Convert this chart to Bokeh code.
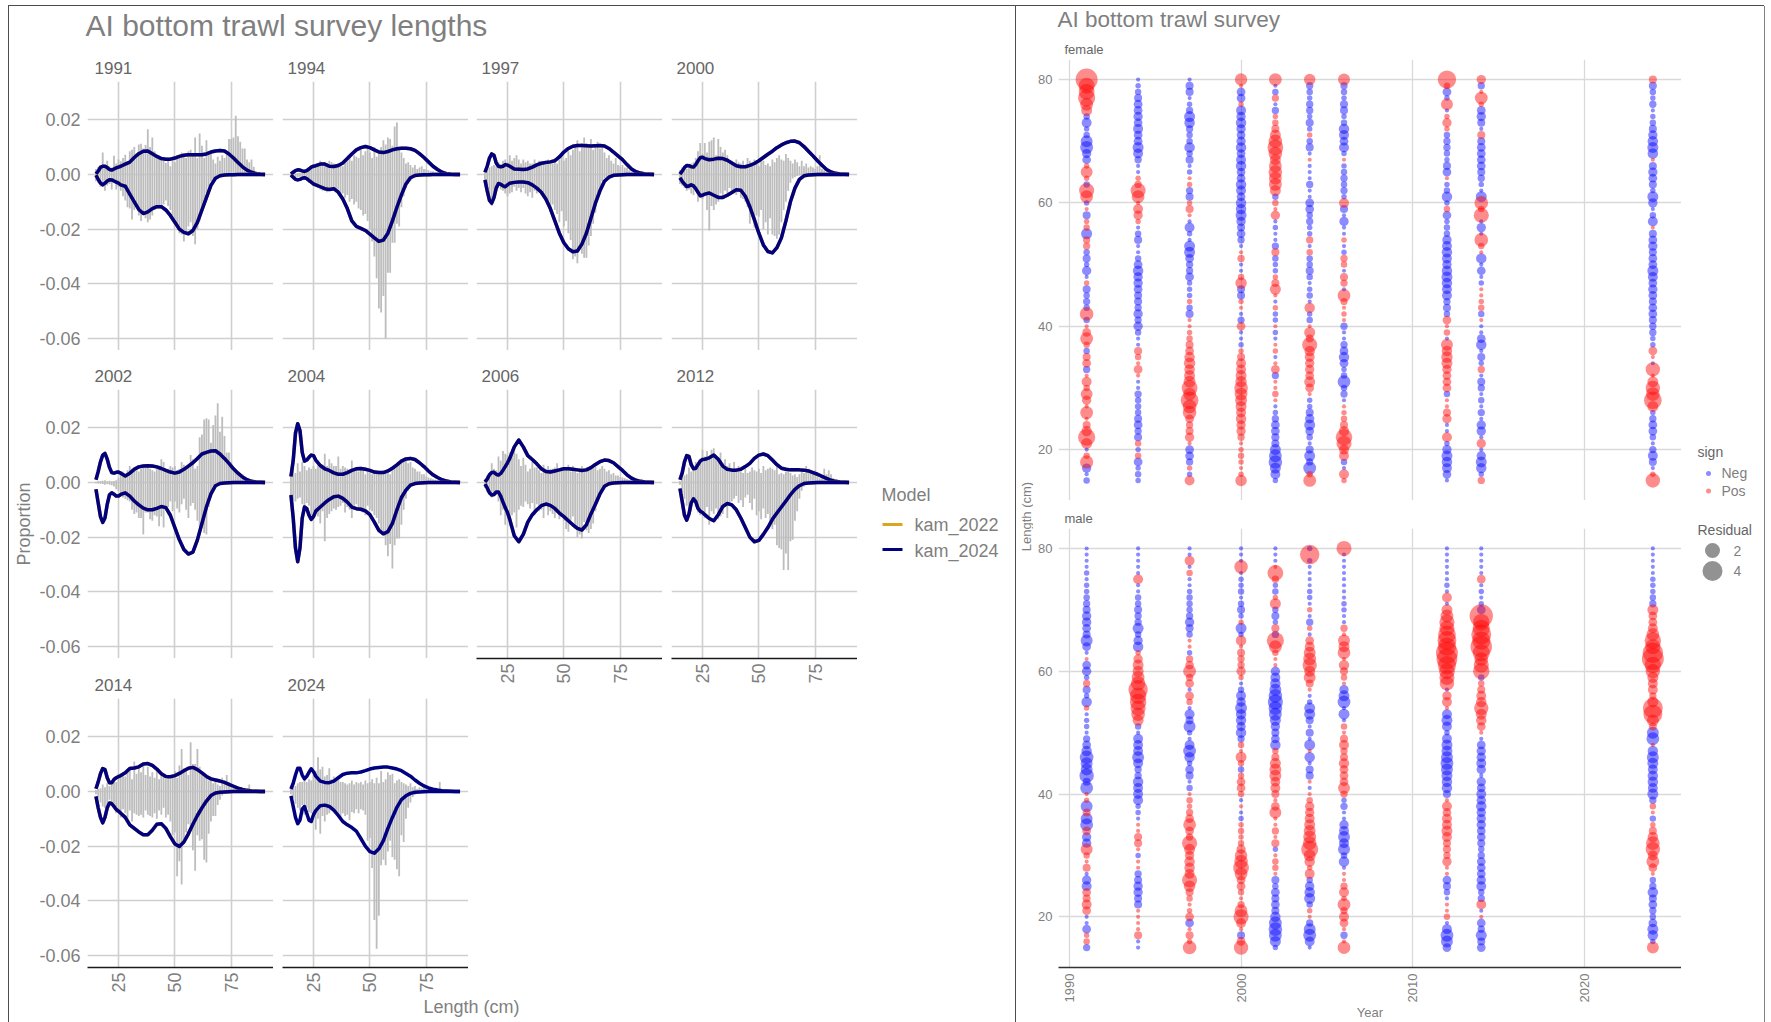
import math
from bokeh.plotting import figure
from bokeh.models import Range1d, FixedTicker, PrintfTickFormatter, Label, Spacer, Title
from bokeh.layouts import row, column
from bokeh.embed import file_html
from bokeh.resources import INLINE

YEARS = [1991, 1994, 1997, 2000, 2002, 2004, 2006, 2012, 2014, 2024]
FIT_LENGTHS = [15,16,17,18,19,20,21,22,23,24,25,26,28,30,32,34,36,38,40,42,44,46,48,50,52,54,56,58,60,62,64,66,68,70,72,74,76,78,80,82,84,86,88,90]

# Observed proportions (1e-4), lengths 15..90; up = above zero, dn = below zero (magnitude)
obs_up_1991 = [20,28,35,80,32,50,30,25,68,40,55,48,60,72,45,85,90,100,70,110,112,95,108,165,100,135,85,70,60,55,50,42,55,30,60,45,70,65,80,75,60,85,90,72,135,60,150,105,60,125,75,85,55,40,65,50,70,60,85,130,130,135,215,140,120,95,95,55,45,55,28,12,4,2,1,1]
obs_dn_1991 = [25,30,45,35,60,40,35,55,30,55,45,60,80,95,120,125,165,130,110,150,170,140,160,175,165,150,130,115,120,125,110,95,115,130,150,165,190,215,220,245,210,190,175,225,255,200,170,130,100,70,45,25,18,15,12,10,8,6,5,4,4,3,3,2,2,1,1,1,1,1,1,1,0,0,0,0]
obs_up_1994 = [3,4,4,5,6,8,12,15,20,25,30,35,40,50,45,40,35,50,45,40,35,30,40,30,45,55,60,50,70,65,60,90,70,85,100,80,60,100,65,90,100,125,110,135,130,105,175,190,100,80,60,40,45,35,25,35,20,25,30,20,18,15,12,12,8,8,6,6,4,3,3,2,1,1,0,0]
obs_dn_1994 = [6,10,12,10,8,8,10,15,20,30,40,45,50,55,60,55,65,50,55,60,60,55,75,70,85,75,100,90,110,100,125,130,150,145,170,200,245,300,380,490,505,445,600,360,360,250,250,180,190,120,80,50,35,25,15,10,8,6,4,3,2,2,2,1,1,1,1,1,1,1,0,0,0,0,0,0]
obs_up_1997 = [10,20,25,30,35,30,45,35,50,55,45,70,50,60,70,55,40,55,45,50,40,40,55,35,50,40,45,35,55,50,40,60,40,55,70,50,60,85,70,90,105,125,85,115,135,115,110,130,90,105,120,95,110,80,60,70,50,40,60,35,30,35,25,25,15,10,10,8,6,4,4,3,2,1,1,0]
obs_dn_1997 = [20,55,100,115,65,50,40,55,60,70,80,70,65,45,60,50,65,50,70,80,65,85,60,70,60,75,85,95,100,125,110,130,145,175,135,190,170,215,240,310,300,325,265,290,305,305,260,225,180,140,90,60,25,15,10,8,6,4,3,2,2,1,1,1,1,1,0,0,0,0,0,0,0,0,0,0]
obs_up_2000 = [15,25,30,20,35,40,45,60,85,115,75,115,80,120,125,135,70,130,100,80,90,70,45,50,35,55,45,40,50,35,60,50,40,55,45,30,60,50,35,40,30,55,45,60,70,55,50,75,60,50,40,55,45,30,50,30,40,25,30,25,20,30,70,20,15,10,8,6,10,4,3,2,1,1,0,0]
obs_dn_2000 = [35,40,50,60,55,70,75,55,100,85,90,75,130,205,115,130,110,100,70,80,60,70,50,60,70,75,65,85,90,100,120,180,130,195,150,155,130,200,175,220,160,220,225,235,220,175,130,100,60,30,15,10,6,4,3,2,2,1,1,1,1,1,1,0,0,0,0,0,0,0,0,0,0,0,0,0]
obs_up_2002 = [3,4,5,6,8,4,6,4,5,8,15,30,40,30,45,60,50,55,45,40,50,60,55,65,50,45,40,60,55,85,75,40,50,60,55,60,45,50,75,65,50,60,100,85,50,60,165,175,230,235,230,145,210,245,290,185,240,170,110,110,75,50,40,40,30,30,20,15,10,6,4,3,2,1,0,0]
obs_dn_2002 = [3,4,5,6,8,6,8,10,15,25,30,50,55,60,65,70,100,115,110,130,130,190,110,110,135,140,120,125,160,125,165,100,90,70,105,70,95,110,80,60,100,130,85,75,100,140,165,155,185,190,90,50,25,15,10,8,6,4,3,2,1,1,1,0,0,0,0,0,0,0,0,0,0,0,0,0]
obs_up_2004 = [55,60,35,70,40,75,60,45,55,50,60,50,65,70,65,105,60,85,70,60,60,95,50,60,55,50,45,80,45,55,40,50,55,30,40,35,30,45,35,40,35,30,45,40,30,45,50,65,75,85,85,80,70,75,55,50,40,40,30,30,22,18,15,12,10,8,10,5,4,3,2,2,1,1,0,0]
obs_dn_2004 = [55,65,70,60,55,80,95,75,85,120,115,110,125,150,105,215,130,115,105,95,100,90,85,75,110,90,100,130,85,80,100,95,110,120,85,100,105,120,130,150,180,190,230,270,225,315,230,205,205,155,100,60,30,15,8,5,3,2,2,1,1,1,0,0,0,0,0,0,0,0,0,0,0,0,0,0]
obs_up_2006 = [10,25,35,70,50,45,95,80,115,105,100,110,100,125,105,85,60,90,65,40,50,75,55,55,45,35,65,50,60,50,50,55,70,45,55,50,55,65,40,60,50,35,50,60,50,55,45,60,55,65,45,50,60,50,40,45,30,35,25,25,20,18,15,12,10,12,8,6,4,3,2,2,1,1,0,0]
obs_dn_2006 = [20,35,45,55,50,45,70,120,100,155,90,160,120,110,165,100,85,90,70,80,95,75,120,80,105,100,130,85,120,105,115,130,110,135,120,140,170,180,140,125,170,200,190,205,145,175,185,170,150,105,70,50,25,15,10,6,4,3,2,1,1,1,0,0,0,0,0,0,0,0,0,0,0,0,0,0]
obs_up_2012 = [5,15,25,30,55,40,60,75,65,85,120,95,115,90,120,125,100,90,110,70,85,60,70,50,75,45,60,40,35,50,35,40,55,45,40,50,35,60,45,50,55,50,45,60,30,35,30,40,45,35,25,30,20,30,40,35,60,50,35,30,45,25,15,15,50,30,45,30,15,10,5,3,2,1,0,0]
obs_dn_2012 = [8,35,60,85,95,105,70,90,110,120,100,130,90,155,105,115,95,135,125,115,85,130,80,70,60,50,75,65,90,55,45,75,100,60,120,105,135,95,130,115,145,170,155,230,240,245,320,260,320,215,210,140,105,60,30,15,8,5,3,2,1,1,0,0,0,0,0,0,0,0,0,0,0,0,0,0]
obs_up_2014 = [5,10,12,25,15,30,20,35,40,35,65,50,65,55,80,85,45,110,65,90,70,105,60,90,55,70,50,85,45,65,55,45,60,45,55,75,50,95,155,85,75,60,180,100,100,155,90,60,55,50,40,45,30,35,25,20,50,40,60,35,20,15,12,10,10,8,6,4,25,3,2,1,1,0,0,0]
obs_dn_2014 = [10,25,40,55,60,70,30,45,60,80,70,95,65,80,100,70,110,80,85,90,85,95,70,85,90,95,80,100,70,85,60,95,85,110,160,150,310,255,340,190,150,120,130,215,290,160,180,175,250,260,155,110,90,90,50,30,15,8,4,2,1,1,0,0,0,0,0,0,0,0,0,0,0,0,0,0]
obs_up_2024 = [10,15,20,30,35,35,40,35,45,40,60,75,125,80,90,55,60,85,45,55,40,45,35,35,30,25,30,40,25,35,30,35,25,40,30,35,45,30,50,30,75,35,45,70,60,65,30,40,45,35,30,25,20,30,15,20,10,15,12,15,10,8,6,4,4,3,35,3,2,2,1,1,0,0,0,0]
obs_dn_2024 = [10,25,45,60,70,50,85,60,75,80,85,140,100,155,90,110,85,80,70,75,80,90,100,80,90,85,105,75,80,65,80,65,70,85,180,170,280,470,575,455,270,250,270,220,180,240,250,285,310,160,185,100,60,40,20,12,8,4,3,2,1,1,0,0,0,0,0,0,0,0,0,0,0,0,0,0]

# Fitted proportions (1e-4) at FIT_LENGTHS
fit_up_1991 = [2,12,26,30,30,25,18,16,20,24,27,30,38,45,62,76,85,86,76,66,58,56,56,60,66,70,72,72,72,72,75,82,86,88,86,75,60,44,28,16,8,3,1,0]
fit_dn_1991 = [3,18,32,38,32,24,19,20,24,28,32,38,43,72,100,128,143,137,125,118,118,130,150,175,200,212,217,205,175,130,85,40,14,5,2,1,1,0,0,0,0,0,0,0]
fit_up_1994 = [2,8,14,17,16,13,11,14,20,27,30,32,38,38,30,29,33,42,58,75,90,98,102,98,90,82,80,84,90,94,96,96,94,88,76,62,46,30,18,8,3,1,0,0]
fit_dn_1994 = [2,10,18,20,18,14,12,15,22,28,35,38,45,52,55,52,65,90,125,170,190,197,205,218,232,245,240,215,170,120,75,35,12,4,2,1,1,0,0,0,0,0,0,0]
fit_up_1997 = [8,30,60,75,70,42,30,28,30,36,34,30,20,19,18,20,27,35,41,44,46,50,64,82,95,103,106,106,105,104,105,106,104,95,82,68,54,36,20,10,5,2,1,0]
fit_dn_1997 = [20,60,95,105,85,50,33,36,42,45,38,32,29,28,28,30,38,50,65,90,125,170,215,250,272,283,280,255,215,160,105,60,25,10,3,2,1,0,0,0,0,0,0,0]
fit_up_2000 = [1,12,25,33,32,28,27,36,50,61,63,58,54,56,59,58,52,42,32,28,28,33,40,50,62,74,85,98,108,116,121,122,116,102,85,68,50,34,18,9,4,2,1,0]
fit_dn_2000 = [12,25,35,44,42,38,42,52,65,78,76,72,68,76,84,84,76,66,56,58,80,118,165,215,258,282,287,268,232,170,100,50,18,5,2,1,0,0,0,0,0,0,0,0]
fit_up_2002 = [10,40,75,100,106,85,55,36,34,37,38,34,24,34,48,57,60,61,60,57,51,44,38,34,38,48,60,72,88,104,110,115,116,104,88,70,50,34,20,10,4,2,1,0]
fit_dn_2002 = [25,75,125,146,130,80,45,38,43,50,50,44,38,50,68,82,94,100,100,95,88,92,120,165,210,245,262,255,210,150,90,42,12,4,2,1,0,0,0,0,0,0,0,0]
fit_up_2004 = [22,80,180,215,190,110,78,82,92,100,98,82,62,50,44,35,30,30,36,44,50,51,48,44,38,36,36,42,52,64,78,86,88,84,72,58,42,28,18,10,5,2,1,0]
fit_dn_2004 = [46,130,240,290,240,130,90,95,120,135,125,105,90,75,62,52,50,58,72,90,96,98,104,118,145,175,188,180,150,100,55,28,10,4,2,1,0,0,0,0,0,0,0,0]
fit_up_2006 = [2,12,28,36,37,30,27,33,45,58,72,88,130,155,130,98,84,68,50,40,38,42,46,50,50,48,46,44,46,54,66,76,82,80,72,58,44,28,16,8,4,2,1,0]
fit_dn_2006 = [6,20,38,46,44,35,35,50,72,92,110,135,195,217,190,145,118,100,85,79,84,95,112,125,140,155,168,174,155,115,80,42,14,5,2,1,0,0,0,0,0,0,0,0]
fit_up_2012 = [10,35,75,98,95,65,50,52,65,78,84,85,90,100,85,60,48,45,45,48,58,70,88,100,104,98,82,65,52,48,46,46,46,45,42,36,30,22,15,8,4,2,1,0]
fit_dn_2012 = [22,70,120,138,115,75,60,70,95,105,110,118,132,140,118,88,77,82,100,130,165,200,217,212,190,165,135,112,90,68,45,25,12,4,2,1,0,0,0,0,0,0,0,0]
fit_up_2014 = [10,35,65,84,80,50,32,32,44,50,54,58,68,84,86,90,100,102,95,82,65,55,54,58,66,76,85,88,80,68,55,46,42,38,33,26,19,12,7,4,2,1,0,0]
fit_dn_2014 = [18,60,95,115,95,60,42,45,55,66,72,80,95,122,135,148,158,158,142,120,118,135,165,192,201,185,155,120,88,60,35,15,6,3,2,1,0,0,0,0,0,0,0,0]
fit_up_2024 = [9,30,60,85,85,60,46,55,70,83,72,56,38,33,32,38,50,62,67,68,68,71,76,82,86,88,89,89,86,82,76,66,56,42,30,20,13,8,5,3,2,1,0,0]
fit_dn_2024 = [16,55,95,118,105,65,55,80,105,110,85,70,52,50,55,68,88,110,122,132,145,172,200,220,226,210,180,135,95,58,30,16,7,3,2,1,0,0,0,0,0,0,0,0]

# Signed Pearson residuals (tenths), lengths 80 down to 15
res_f_1991 = [44,22,22,26,14,10,-3,-8,-2,-3,-12,-14,-7,-6,2,12,2,-3,20,14,-2,1,-5,2,3,-10,4,4,-3,-5,-2,-7,-1,2,-5,-3,-4,-3,16,-3,1,6,14,3,-3,5,6,-4,1,8,3,12,7,1,14,1,5,9,26,10,-1,3,15,-7,-1,-3]
res_f_1994 = [-1,-2,-3,-5,-6,-6,-7,-6,-8,-6,-6,-10,-8,-4,-1,-1,2,4,20,14,1,8,7,2,-1,-3,-5,-1,-1,-3,-6,-9,-7,-7,-6,-5,-5,-4,-7,-4,-7,-3,-1,-1,5,3,1,6,1,-1,-1,-4,-3,-3,-3,-5,-6,-4,-5,3,-2,3,-6,-2,-3,-2]
res_f_1997 = [-1,-5,-5,-1,-2,-4,-10,-9,-4,-3,-3,-9,-3,-5,-1,-2,1,2,-4,-5,2,5,1,-1,-8,-2,-1,-10,-10,-6,-4,-4,-6,-2,-2,-2,2,-3,-5,1,1,2,3,5,6,9,11,9,10,12,22,14,28,16,16,6,4,5,7,1,-6,-6,-4,2,-2,8]
res_f_2000 = [13,1,-6,-6,2,-8,-7,-9,-7,-6,-7,-9,-6,-8,-9,-6,-6,-9,-8,-6,-9,-9,-10,-7,-5,-6,-4,-1,1,4,-1,-1,3,11,-5,-5,2,1,-1,-4,6,-1,-1,-2,2,5,8,8,10,11,16,14,12,10,8,9,7,7,4,1,2,3,2,1,2,11]
res_f_2002 = [14,-1,-3,4,-1,-4,2,3,5,10,16,22,16,10,14,16,14,14,10,-3,3,1,7,-1,-2,-1,-1,-4,5,-3,-2,-2,2,5,10,1,-1,2,-2,-2,1,-2,-1,1,2,-1,1,6,-4,1,1,3,1,-1,-2,-4,-6,-6,-5,-5,-10,-14,-16,-10,-8,-2]
res_f_2004 = [11,-4,-3,-2,-4,-4,-2,-5,-2,2,-3,-5,-1,1,-1,-1,-1,-4,-1,-1,-6,-6,-3,-4,-2,-2,4,-1,3,-3,-3,-5,-3,-1,-2,-3,-1,9,-2,-3,1,10,5,20,9,8,7,7,6,10,6,1,-2,-2,-5,-7,-10,-6,-3,-1,-5,-10,-4,-14,3,14]
res_f_2006 = [12,-4,-3,-2,-5,-5,-2,-3,-9,-8,-6,-8,-2,1,-2,-3,-4,-3,-4,-2,8,-5,-1,-7,-1,-1,2,-1,-2,4,3,-1,5,4,-1,14,4,1,2,1,-4,-1,-1,-4,-6,-9,-6,-2,-3,-14,-3,-4,-1,1,2,3,5,9,24,20,8,8,-3,-1,8,2]
res_f_2012 = [30,3,-6,-2,12,-1,2,7,2,-3,-4,-4,-3,-2,-5,-6,1,-2,-3,-9,-2,3,-6,-2,-3,-3,-7,-8,-9,-8,-7,-9,-10,-9,-8,-8,-4,-5,-3,6,1,3,-1,12,9,11,10,7,6,6,6,-3,1,1,5,7,-1,-1,8,-2,-7,-10,-9,-8,-6,-1]
res_f_2014 = [7,-4,1,14,2,-6,-7,-5,-1,5,-5,-6,-6,-6,-6,-5,-4,-2,-1,-10,16,3,20,-1,-7,-1,16,3,1,-9,-1,-6,-1,-2,1,1,2,3,-3,1,-1,-1,-6,-9,-1,-5,-2,4,-1,-5,-4,-1,-3,-1,-4,-1,-7,-7,-1,7,-1,-7,-10,-9,-2,4]
res_f_2024 = [5,-5,-3,-2,-4,-1,-2,-3,-5,-7,-9,-10,-9,1,-5,-7,-6,-5,-2,-10,-7,-1,-3,-8,1,-5,-6,-7,-5,-6,-6,-10,-8,-6,-7,-6,-5,-6,-6,-5,-4,-4,-2,-2,6,1,-1,18,1,10,18,16,28,10,-2,-4,-6,-6,-3,-1,-4,-8,-5,-1,2,18]
res_m_1991 = [-1,-1,-1,-1,-2,-1,-2,-2,-3,-4,-5,-7,-7,-6,-5,-12,-6,-1,1,-6,-7,-2,4,-5,-2,-9,2,-1,-2,-2,-1,-4,-6,-9,-16,-12,-12,-18,-5,-14,1,2,-12,5,-12,-14,6,-7,-7,12,3,1,5,-1,-7,-8,6,5,8,6,-1,-1,-6,2,3,-4]
res_m_1994 = [-1,-1,-1,-1,-1,8,-1,-1,-3,-3,-5,-4,-4,-10,-3,-7,-9,2,7,10,10,14,18,34,24,24,20,16,10,-3,-1,-8,-8,-8,-12,-8,-4,-4,-9,-8,-8,-8,-2,-2,-1,1,1,5,5,1,-2,1,1,-4,-5,-7,-7,-5,-5,1,1,1,1,5,-1,-1]
res_m_1997 = [-1,-1,8,-1,3,-1,-1,-2,-3,-3,-3,-4,-7,-5,-3,1,1,-2,4,6,14,4,6,-1,6,3,-1,-8,-5,-12,-2,-1,-8,-14,-9,-2,-6,-5,-1,-3,1,3,2,4,6,14,6,4,20,10,7,9,9,8,20,11,5,3,1,2,6,-6,1,5,2,16]
res_m_2000 = [-1,-1,-1,16,-1,-2,-2,-3,-1,-3,-5,-2,2,-10,-2,9,1,5,4,4,7,2,-1,-3,-8,-7,-12,-9,-9,-7,-9,-4,3,1,10,3,-3,3,6,6,3,-1,1,-1,-2,2,3,2,3,7,13,16,22,14,6,6,3,1,4,14,20,8,1,-5,6,18]
res_m_2002 = [-1,-1,-1,1,22,4,-2,-3,2,10,-3,-5,-2,5,-4,26,14,3,1,1,-7,-8,-9,-12,-16,-20,-16,-14,-10,-7,-5,-6,-9,3,5,10,12,12,8,8,5,1,6,12,1,1,4,1,5,-2,1,3,3,1,-5,-3,-6,-5,-6,-5,-9,-14,-16,-14,-10,-2]
res_m_2004 = [-2,34,-2,-1,-1,-1,-1,-2,-2,-1,2,-1,-4,2,-1,6,8,12,14,18,10,12,5,1,-1,-2,-10,-10,-5,-1,-5,-1,-10,1,-9,-1,-5,-5,1,-1,1,3,7,7,8,10,12,14,16,26,12,9,2,8,-3,-7,-9,-10,-3,2,1,-4,-12,-14,-8,-1]
res_m_2006 = [20,-1,-1,-1,-1,-1,-1,-1,-1,-2,-2,-1,-1,4,1,12,10,14,1,9,5,3,1,-7,-10,-14,-1,-10,-1,3,1,5,8,4,5,9,6,6,6,12,4,-2,-4,-1,-1,-7,-8,-12,-8,-12,-3,-9,-1,1,1,4,8,2,14,4,8,6,1,-4,1,14]
res_m_2012 = [-1,-1,-1,-1,-1,-1,-2,-1,8,-1,10,14,20,20,28,32,30,44,40,30,22,20,18,-1,7,8,1,-8,-10,-8,-2,-8,-10,-10,-12,-14,-12,-10,-9,-9,-5,1,8,6,8,8,10,8,5,5,4,7,1,1,-6,-5,-3,-1,1,1,3,-1,-8,-14,-12,-6]
res_m_2014 = [-1,-1,-1,-1,-1,6,-1,-2,-1,-2,-6,50,24,26,36,30,42,26,16,20,24,-3,3,5,8,9,18,10,9,6,1,-1,-6,-7,-7,-8,-7,-1,-7,-6,-8,-7,-9,-7,-7,-7,-6,-6,-5,-3,-4,-6,-6,-6,-7,-8,-3,-4,8,-1,1,-6,-4,-10,-5,-6]
res_m_2024 = [-1,-1,-1,-1,-1,-2,-2,-2,-3,-4,10,6,6,8,14,24,20,38,44,24,18,10,8,8,4,10,36,32,12,5,-12,-14,1,-9,-12,-10,-8,-9,-9,-8,-10,-4,3,1,-3,2,5,9,16,18,8,14,6,1,-3,-4,-9,-5,-6,-4,-3,-6,-10,-9,-2,12]

X_TICKS = [25, 50, 75]
Y_TICKS = [-0.06, -0.04, -0.02, 0.0, 0.02]
LEN_TICKS = [20, 40, 60, 80]
YEAR_TICKS = [1990, 2000, 2010, 2020]
FONT = "Liberation Sans"
GREY = "#7f7f7f"
STRIP = "#666666"
GRID = "#cfcfcf"
BORDER = "#4d4d4d"
COL_2022 = "#DAA520"
COL_2024 = "#000080"


def base(w, h, left, top, bottom, xr, yr, right=0):
    p = figure(width=w, height=h, x_range=Range1d(*xr), y_range=Range1d(*yr),
               min_border_left=left, min_border_right=right, min_border_top=top,
               min_border_bottom=bottom, toolbar_location=None, output_backend="svg",
               outline_line_color=None, background_fill_color=None, border_fill_color=None)
    return p


def canvas(w, h):
    p = base(w, h, 0, 0, 0, (0, w), (h, 0))
    p.axis.visible = False
    p.grid.visible = False
    return p


def txt(p, x, y, text, size, color=GREY, align="left", angle=0):
    p.add_layout(Label(x=x, y=y, text=text, angle=angle,
                       text_font=FONT, text_font_size=f"{size}px", text_color=color,
                       text_align=align, text_baseline="middle"))


def strip_title(p, text, size, offset, standoff):
    p.add_layout(Title(text=text, align="left", offset=offset, standoff=standoff,
                       text_font=FONT, text_font_size=f"{size}px", text_color=STRIP,
                       text_font_style="normal"), "above")


def style_axes(p, size):
    for ax in (p.xaxis, p.yaxis):
        ax.major_tick_line_color = None
        ax.minor_tick_line_color = None
        ax.major_tick_out = 0
        ax.major_tick_in = 0
        ax.minor_tick_out = 0
        ax.major_label_text_font = FONT
        ax.major_label_text_font_size = f"{size}px"
        ax.major_label_text_color = GREY
    p.yaxis.axis_line_color = None
    p.xaxis.major_label_orientation = math.pi / 2


def panel(year, left, top, bottom, show_y=False, show_x=False, ylabel=None):
    fw, fh = 186, 269
    p = base(left + fw, top + fh + bottom, left, top, bottom, (11.25, 93.75), (-0.0644, 0.034))
    up = globals()[f"obs_up_{year}"]
    dn = globals()[f"obs_dn_{year}"]
    p.vbar(x=list(range(15, 15 + len(up))), bottom=0, top=[v / 1e4 for v in up], width=0.8,
           color="#bdbdbd", line_color=None)
    p.vbar(x=list(range(15, 15 + len(dn))), bottom=0, top=[-v / 1e4 for v in dn], width=0.8,
           color="#bdbdbd", line_color=None)
    fu = [v / 1e4 for v in globals()[f"fit_up_{year}"]]
    fd = [-v / 1e4 for v in globals()[f"fit_dn_{year}"]]
    for f in (fu, fd):
        if year != 2024:
            p.line(FIT_LENGTHS[:len(f)], f, line_color=COL_2022, line_width=3.5, line_join="round")
        p.line(FIT_LENGTHS[:len(f)], f, line_color=COL_2024, line_width=3.5, line_join="round")
    p.xaxis.ticker = FixedTicker(ticks=X_TICKS)
    p.yaxis.ticker = FixedTicker(ticks=Y_TICKS)
    p.xgrid.ticker = FixedTicker(ticks=X_TICKS)
    p.ygrid.ticker = FixedTicker(ticks=Y_TICKS)
    p.grid.grid_line_color = GRID
    p.grid.grid_line_width = 1.6
    p.yaxis.formatter = PrintfTickFormatter(format="%.2f")
    style_axes(p, 18)
    p.yaxis.major_label_standoff = 7
    p.xaxis.major_label_standoff = 5
    p.xaxis.axis_line_color = "#1a1a1a"
    p.xaxis.axis_line_width = 1.6
    p.xaxis.visible = show_x
    p.yaxis.visible = show_y
    if ylabel:
        p.yaxis.axis_label = ylabel
        p.yaxis.axis_label_text_font = FONT
        p.yaxis.axis_label_text_font_size = "18px"
        p.yaxis.axis_label_text_font_style = "normal"
        p.yaxis.axis_label_text_color = GREY
        p.yaxis.axis_label_standoff = 2
    strip_title(p, str(year), 17, 7 if show_y else 5, 16)
    return p


def facet(sex, strip, top, bottom, show_x, standoff):
    fw, fh = 623, 441
    p = base(25 + fw, top + fh + bottom, 25, top, bottom, (1989.36, 2025.67), (11.75, 83.25))
    xn, yn, sn, xp, yp, sp = [], [], [], [], [], []
    for y in YEARS:
        vals = globals()[f"res_{sex}_{y}"]
        for i, v in enumerate(vals):
            d = 1 + 10 * math.sqrt(abs(v) / 10)
            if v < 0:
                xn.append(y); yn.append(80 - i); sn.append(d)
            else:
                xp.append(y); yp.append(80 - i); sp.append(d)
    p.scatter(xn, yn, size=sn, color="#0000ff", alpha=0.45, line_color=None)
    p.scatter(xp, yp, size=sp, color="#ff0000", alpha=0.45, line_color=None)
    p.xaxis.ticker = FixedTicker(ticks=YEAR_TICKS)
    p.yaxis.ticker = FixedTicker(ticks=LEN_TICKS)
    p.xgrid.ticker = FixedTicker(ticks=YEAR_TICKS)
    p.ygrid.ticker = FixedTicker(ticks=LEN_TICKS)
    p.grid.grid_line_color = "#d9d9d9"
    p.grid.grid_line_width = 1.3
    style_axes(p, 13)
    p.yaxis.major_label_standoff = 6
    p.xaxis.major_label_standoff = 6
    p.xaxis.axis_line_color = "#333333"
    p.xaxis.axis_line_width = 1.6
    p.xaxis.visible = show_x
    if show_x:
        p.xaxis.axis_label = "Year"
        p.xaxis.axis_label_text_font = FONT
        p.xaxis.axis_label_text_font_size = "13px"
        p.xaxis.axis_label_text_font_style = "normal"
        p.xaxis.axis_label_text_color = GREY
        p.xaxis.axis_label_standoff = 0
    strip_title(p, strip, 13, 6, standoff)
    return p


# ---- left side ----
col1 = column(panel(1991, 78, 37, 0, show_y=True),
              panel(2002, 78, 39, 0, show_y=True, ylabel="Proportion"),
              panel(2014, 78, 40, 29, show_y=True, show_x=True))
col2 = column(panel(1994, 9, 37, 0), panel(2004, 9, 39, 0), panel(2024, 9, 40, 29, show_x=True))
col3 = column(panel(1997, 8, 37, 0), panel(2006, 8, 39, 38, show_x=True))
col4 = column(panel(2000, 9, 37, 0), panel(2012, 9, 39, 38, show_x=True))

leg = canvas(158, 952)
txt(leg, 24, 450, "Model", 18, GREY)
leg.line([25, 45], [480, 480], line_color=COL_2022, line_width=3.2)
leg.line([25, 45], [505, 505], line_color=COL_2024, line_width=3.2)
txt(leg, 57, 480, "kam_2022", 18, GREY)
txt(leg, 57, 506, "kam_2024", 18, GREY)

title_left = canvas(1005, 38)
txt(title_left, 76, 19, "AI bottom trawl survey lengths", 30, GREY)
bottom_left = canvas(1005, 22)
txt(bottom_left, 462, 10, "Length (cm)", 18, GREY, align="center")
left_side = column(title_left, row(col1, col2, col3, col4, leg), bottom_left)

# ---- right side ----
title_right = canvas(748, 30)
txt(title_right, 41, 13, "AI bottom trawl survey", 22.5, GREY)
ylab = canvas(17, 982)
txt(ylab, 10, 480, "Length (cm)", 13, GREY, align="center", angle=math.pi / 2)
facets = column(facet("f", "female", 23, 0, False, 6), facet("m", "male", 28, 54, True, 6))
rleg = canvas(83, 982)
txt(rleg, 16, 415, "sign", 14, STRIP)
rleg.scatter([27, 27], [437, 454.5], size=5, color=["#0000ff", "#ff0000"], alpha=0.45, line_color=None)
txt(rleg, 40, 436, "Neg", 14, GREY)
txt(rleg, 40, 454.5, "Pos", 14, GREY)
txt(rleg, 16, 493, "Residual", 14, STRIP)
rleg.scatter([31, 31], [514, 534.5], size=[15, 20], color="#7f7f7f", alpha=0.85, line_color=None)
txt(rleg, 52, 514, "2", 14, GREY)
txt(rleg, 52, 534.5, "4", 14, GREY)
right_side = column(title_right, row(ylab, facets, rleg))

vl = lambda c=BORDER: Spacer(width=1, height=1016, styles={"background-color": c})
root = column(Spacer(width=1756, height=1, styles={"background-color": BORDER}),
              row(vl(), left_side, vl(), right_side, vl("#808080")),
              margin=(5, 0, 0, 8))

open("out.html", "w").write(file_html(root, INLINE))
